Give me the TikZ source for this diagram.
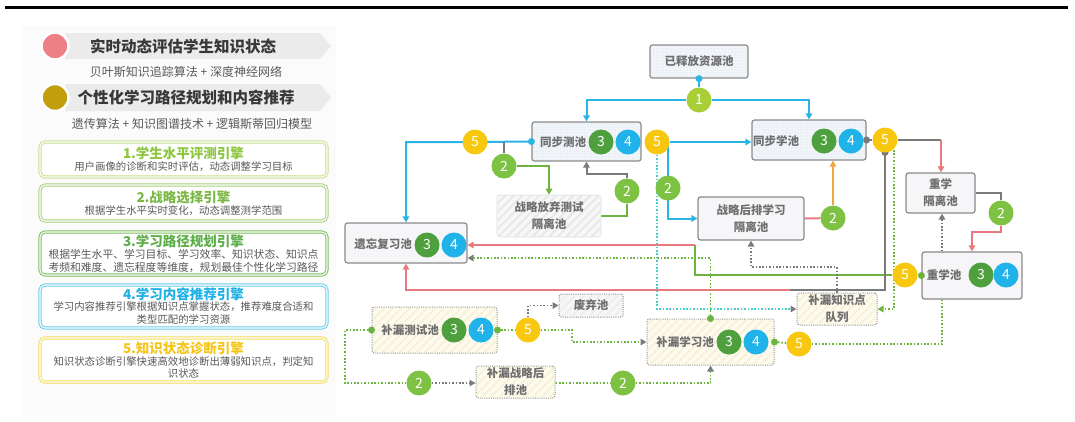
\documentclass[tikz,border=0pt]{standalone}
\usepackage{fontspec}
\setmainfont{Noto Sans CJK SC}
\usetikzlibrary{arrows.meta,patterns.meta,backgrounds}
\definecolor{cyanL}{HTML}{2AB5E6}
\definecolor{greyL}{HTML}{7A7A7A}
\definecolor{greenL}{HTML}{6DB33F}
\definecolor{redL}{HTML}{E8797E}
\definecolor{orangeL}{HTML}{F2A541}
\definecolor{tealL}{HTML}{45D2C6}
\definecolor{nA}{HTML}{A9CF38}
\definecolor{nB}{HTML}{7DC243}
\definecolor{nC}{HTML}{4E9F3E}
\definecolor{nD}{HTML}{1FB3EA}
\definecolor{nE}{HTML}{F8C70F}
\definecolor{txtG}{HTML}{6E6E6E}
\definecolor{bordG}{HTML}{8A8A8A}
\definecolor{dotBg}{HTML}{F2F5F9}
\definecolor{dotFg}{HTML}{A9BBD0}
\definecolor{yBg}{HTML}{FDFBF0}
\definecolor{yFg}{HTML}{F4ECC6}
\definecolor{gBg}{HTML}{F7F7F7}
\definecolor{gFg}{HTML}{E8E8E8}
\definecolor{poolBg}{HTML}{F6F5F7}
\definecolor{bannerC}{HTML}{EBEBEB}
\definecolor{redC}{HTML}{EE7F84}
\definecolor{oliveC}{HTML}{C19E0C}
\definecolor{eAb}{HTML}{C8E08E}\definecolor{eAt}{HTML}{8DC63F}
\definecolor{eBb}{HTML}{A9D27C}\definecolor{eBt}{HTML}{7CB844}
\definecolor{eCb}{HTML}{7DBF5E}\definecolor{eCt}{HTML}{5EAE4A}
\definecolor{eDb}{HTML}{6ACDEB}\definecolor{eDt}{HTML}{1FB0E5}
\definecolor{eEb}{HTML}{F6DC5A}\definecolor{eEt}{HTML}{F5C518}
\begin{document}
\begin{tikzpicture}[x=1pt,y=-1pt,
  pool/.style={rectangle, rounded corners=2.5pt, inner sep=0pt, align=center, text=txtG,
    font=\fontsize{11.5}{17}\selectfont\bfseries},
  dotpool/.style={pool, draw=bordG, line width=1.2pt, fill=dotBg,
    postaction={pattern={Dots[distance=3pt,radius=0.45pt]}, pattern color=dotFg}},
  greypool/.style={pool, draw=bordG, line width=1.2pt, fill=poolBg},
  hatchgrey/.style={pool, fill=gBg, postaction={pattern={Lines[angle=45,distance=6pt,line width=2pt]}, pattern color=gFg}},
  hatchyel/.style={pool, draw=bordG, line width=1pt, dash pattern=on 1pt off 1.2pt, fill=yBg,
    postaction={pattern={Lines[angle=45,distance=6pt,line width=2pt]}, pattern color=yFg}},
  lbl/.style={inner sep=0pt, text=txtG, font=\fontsize{11.5}{13}\selectfont\bfseries},
  num/.style={circle, minimum size=25pt, inner sep=0pt, text=white, font=\fontsize{14}{14}\selectfont},
  nOne/.style={num, fill=nA}, nTwo/.style={num, fill=nB}, nThree/.style={num, fill=nC},
  nFour/.style={num, fill=nD}, nFive/.style={num, fill=nE},
  jdot/.style={circle, minimum size=7pt, inner sep=0pt},
  arr/.style={-{Triangle[length=6pt,width=6.5pt]}},
  garr/.style={-{Triangle[length=6pt,width=6.5pt,color=greyL]}},
  cyl/.style={draw=cyanL, line width=2pt},
  gyl/.style={draw=greyL, line width=2pt},
  grl/.style={draw=greenL, line width=2pt},
  rdl/.style={draw=redL, line width=2pt},
  orl/.style={draw=orangeL, line width=2pt},
  gdl/.style={draw=greenL, line width=1.8pt, dash pattern=on 1.6pt off 1.8pt},
  gydl/.style={draw=greyL, line width=1.8pt, dash pattern=on 1.6pt off 1.8pt},
  tdl/.style={draw=tealL, line width=1.8pt, dash pattern=on 1.6pt off 1.8pt},
  eng/.style={rectangle, rounded corners=5pt, line width=1pt, double=white, double distance=1.1pt, fill=white, minimum width=287pt, inner sep=0pt},
  engT/.style={inner sep=0pt, font=\fontsize{13.5}{15}\selectfont\bfseries},
  engD/.style={inner sep=0pt, text=black!65, font=\fontsize{10.4}{12.3}\selectfont, align=center},
  banT/.style={inner sep=0pt, text=black!78, font=\fontsize{15.5}{17}\selectfont\bfseries},
  banS/.style={inner sep=0pt, text=black!65, font=\fontsize{12}{13}\selectfont}
]
\useasboundingbox (0,0) rectangle (1075,421);
\fill[black!1.5] (22,26) rectangle (336,416);
\draw[line width=3pt] (5,7) -- (1068,7);

% ---- left panel ----
\fill[bannerC] (65,33) -- (320,33) -- (331,46) -- (320,59) -- (65,59) -- cycle;
\node[circle, fill=redC, draw=white, line width=2.5pt, minimum size=27pt] (b1) at (55,46) {};
\node[banT] (b1t) at (183,46.5) {实时动态评估学生知识状态};
\node[banS] (b1s) at (186,72) {贝叶斯知识追踪算法 + 深度神经网络};
\fill[bannerC] (65,84) -- (320,84) -- (331,97.5) -- (320,111) -- (65,111) -- cycle;
\node[circle, fill=oliveC, draw=white, line width=2.5pt, minimum size=27pt] (b2) at (55,97.5) {};
\node[banT] (b2t) at (186,97.5) {个性化学习路径规划和内容推荐};
\node[banS] (b2s) at (192,124) {遗传算法 + 知识图谱技术 + 逻辑斯蒂回归模型};

\node[eng, draw=eAb, minimum height=35pt] (e1) at (183.5,159.5) {};
\node[engT, text=eAt] (e1t) at (183.5,153) {1.学生水平评测引擎};
\node[engD] (e1d) at (183.5,166.5) {用户画像的诊断和实时评估，动态调整学习目标};
\node[eng, draw=eBb, minimum height=36pt] (e2) at (183.5,203) {};
\node[engT, text=eBt] (e2t) at (183.5,197) {2.战略选择引擎};
\node[engD] (e2d) at (183.5,211) {根据学生水平实时变化，动态调整测学范围};
\node[eng, draw=eCb, minimum height=43pt] (e3) at (183.5,253.5) {};
\node[engT, text=eCt] (e3t) at (183.5,241) {3.学习路径规划引擎};
\node[engD, font=\fontsize{10.8}{12.3}\selectfont] (e3d) at (183.5,261) {根据学生水平、学习目标、学习效率、知识状态、知识点\\考频和难度、遗忘程度等维度，规划最佳个性化学习路径};
\node[eng, draw=eDb, minimum height=43pt] (e4) at (183.5,306.5) {};
\node[engT, text=eDt] (e4t) at (183.5,294.5) {4.学习内容推荐引擎};
\node[engD] (e4d) at (183.5,313) {学习内容推荐引擎根据知识点掌握状态，推荐难度合适和\\类型匹配的学习资源};
\node[eng, draw=eEb, minimum height=44pt] (e5) at (183.5,360) {};
\node[engT, text=eEt] (e5t) at (183.5,348) {5.知识状态诊断引擎};
\node[engD] (e5d) at (183.5,367.5) {知识状态诊断引擎快速高效地诊断出薄弱知识点，判定知\\识状态};

% ---- pools ----
\node[dotpool, minimum width=98pt, minimum height=33pt] (rel) at (699,61.5) {已释放资源池};
\node[dotpool, minimum width=109pt, minimum height=39pt] (tbc) at (586.5,141.5) {};
\node[dotpool, minimum width=114pt, minimum height=40pt] (tbx) at (809,140) {};
\node[greypool, minimum width=122pt, minimum height=40pt] (yw) at (406,243) {};
\node[hatchgrey, draw=black!12, line width=0.6pt, minimum width=104pt, minimum height=42pt] (fq) at (549,216) {战略放弃测试\\隔离池};
\node[greypool, minimum width=106pt, minimum height=43pt] (hp) at (751,218.5) {战略后排学习\\隔离池};
\node[greypool, minimum width=69pt, minimum height=40pt] (cxg) at (940.5,193) {重学\\隔离池};
\node[greypool, minimum width=100pt, minimum height=47pt] (cx) at (972,275.5) {};
\node[hatchyel, minimum width=125pt, minimum height=46pt] (blcs) at (434.5,330) {};
\node[hatchyel, minimum width=79pt, minimum height=32pt] (blzl) at (515.5,382) {补漏战略后\\排池};
\node[hatchgrey, draw=bordG, line width=1pt, dash pattern=on 1pt off 1.2pt, minimum width=64pt, minimum height=23pt] (fqc) at (591,305.5) {废弃池};
\node[hatchyel, minimum width=127pt, minimum height=46pt] (blxx) at (710.5,342) {};
\node[hatchyel, minimum width=80pt, minimum height=32pt] (bldl) at (837,309) {补漏知识点\\队列};

\node[lbl] (tbcT) at (563,142) {同步测池};
\node[lbl] (tbxT) at (776,141) {同步学池};
\node[lbl] (ywT) at (383,244) {遗忘复习池};
\node[lbl] (cxT) at (944,275) {重学池};
\node[lbl] (blcsT) at (410,330) {补漏测试池};
\node[lbl] (blxxT) at (685,342) {补漏学习池};

% dots lying behind circles
\node[jdot, fill=greyL] (d3) at (tbx.east) {};
\node[jdot, fill=greyL] (d4) at (885,152.5) {};

% ---- numbered circles ----
\node[nOne] (n1) at (699,100) {1};
\node[nThree] (tbc3) at (601,142) {3};
\node[nFour] (tbc4) at (628,142) {4};
\node[nFive] (n5a) at (475,142) {5};
\node[nFive] (n5b) at (657,142) {5};
\node[nThree] (tbx3) at (824,141) {3};
\node[nFour] (tbx4) at (851,141) {4};
\node[nFive] (n5c) at (885,140) {5};
\node[nThree] (yw3) at (427,245) {3};
\node[nFour] (yw4) at (454,245) {4};
\node[nThree] (cx3) at (981,275) {3};
\node[nFour] (cx4) at (1006,275) {4};
\node[nFive] (n5d) at (905,275) {5};
\node[nThree] (blcs3) at (454,330) {3};
\node[nFour] (blcs4) at (481,330) {4};
\node[nFive] (n5f) at (528,330) {5};
\node[nThree] (blxx3) at (729,342) {3};
\node[nFour] (blxx4) at (756,342) {4};
\node[nFive] (n5e) at (799,344) {5};
\node[nTwo] (n2a) at (504,166) {2};
\node[nTwo] (n2b) at (627,191) {2};
\node[nTwo] (n2c) at (668,188) {2};
\node[nTwo] (n2d) at (833,218) {2};
\node[nTwo] (n2e) at (1001,213) {2};
\node[nTwo] (n2f) at (419,383) {2};
\node[nTwo] (n2g) at (623,383) {2};

% ---- waypoints ----
\coordinate (k1) at (627,174);
\coordinate (k2) at (668,142);
\coordinate (k3) at (1001,232);
\coordinate (k4) at (695,275);
\coordinate (k5) at (695,245);
\coordinate (k6) at (885,290);
\coordinate (k7) at (790,290);
\coordinate (k8) at (894,150);
\coordinate (k9) at (837,267);
\coordinate (k10) at (710.5,258);
\coordinate (k11) at (942,344);
\coordinate (k12) at (345,330);
\coordinate (k13) at (572,330);
\coordinate (k14) at (941,140);

% ---- connectors ----
\begin{scope}[on background layer]
\draw[cyl] (rel.south) -- (n1);
\draw[cyl,arr] (n1.west) -| (tbc.north);
\draw[cyl,arr] (n1.east) -| (tbx.north);
\draw[cyl,arr] (tbc.west) -- (n5a.center) -| (yw.north);
\draw[gyl] (n2a |- tbc.west) -- (n2a);
\draw[grl,arr] (n2a.east) -| (fq.north);
\draw[grl] (fq.east) -| (n2b);
\draw[gyl,arr] (n2b.north) -- (k1) -| (tbc.south);
\draw[cyl,arr] (n5b.east) -- (n5b.east -| tbx.west);
\draw[cyl,arr] (k2) |- (hp.west);
\draw[tdl,garr] (n5b.south) |- (bldl.west);
\draw[rdl] (hp.east) -- (n2d);
\draw[orl,arr] (n2d) -- (n2d |- tbx.south);
\draw[gyl] (tbx.east) -- (n5c);
\draw[gyl] (n5c.east) -- (k14);
\draw[rdl,arr] (k14) -- (k14 |- cxg.north);
\draw[gyl] (cxg.east) -| (n2e);
\draw[rdl,arr] (n2e.south) -- (k3) -| (cx.north);
\draw[grl] (n5d.west) -- (k4) -- (k5);
\draw[rdl,arr] (k5) -- (k5 -| yw.east);
\draw[gyl] (n5c.south) -- (k6) -- (k7);
\draw[rdl,arr] (k7) -| (yw.south);
\draw[gdl,-{Triangle[length=6pt,width=6.5pt,color=greenL]}] (k8) |- (bldl.east);
\draw[gydl,garr] (bldl.north) -- (k9) -| (hp.south);
\draw[gdl,garr] (blxx.north) -- (k10) -- (k10 -| yw.east);
\draw[gdl] (blxx.east) -- (n5e);
\draw[gdl] (n5e.east) -- (k11) -- (k11 |- cx.south);
\draw[gydl,garr] (k11 |- cx.north) -- (k11 |- cxg.south);
\draw[gdl] (blcs.west) -- (k12) |- (n2f);
\draw[gydl,garr] (n2f.east) -- (n2f.east -| blzl.west);
\draw[gdl] (blzl.east |- n2g) -- (n2g);
\draw[gdl,garr] (n2g.east) -| (blxx.south);
\draw[gdl] (blcs.east) -- (n5f);
\draw[gdl,garr] (n5f.east) -- (k13) |- (blxx.west);
\draw[gydl,garr] (n5f.north) |- (fqc.west);
\end{scope}

% ---- junction dots ----
\node[jdot, fill=cyanL] (d1) at (rel.south) {};
\node[jdot, fill=cyanL] (d2) at (tbc.west) {};
\node[jdot, fill=greenL] (d5) at (cx.west) {};
\node[jdot, fill=greenL] (d6) at (blcs.west) {};
\node[jdot, fill=greenL] (d7) at (blcs.east) {};
\node[jdot, fill=greenL] (d8) at (blxx.north) {};
\node[jdot, fill=greenL] (d9) at (blxx.east) {};
\end{tikzpicture}
\end{document}
